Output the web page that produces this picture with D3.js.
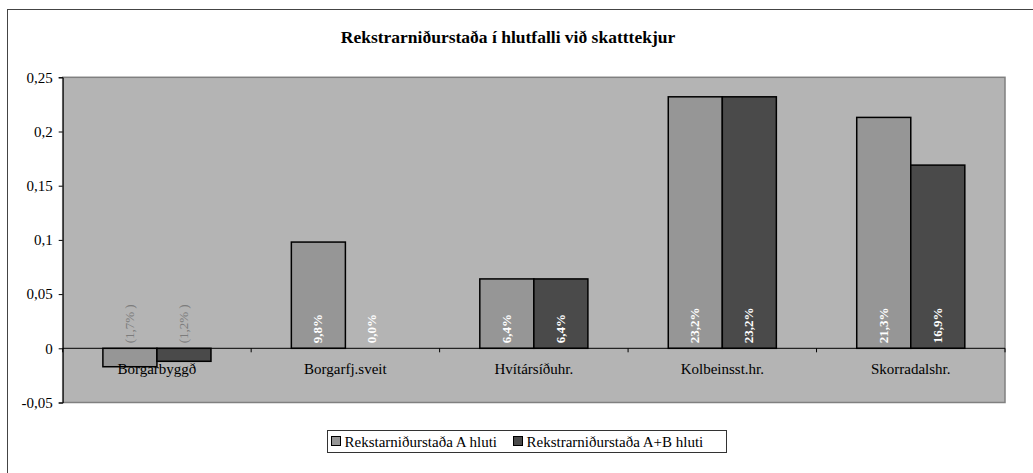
<!DOCTYPE html>
<html>
<head>
<meta charset="utf-8">
<script src="https://cdn.jsdelivr.net/npm/d3@7"></script>
<style>
  body { margin: 0; background: #fff; }
  svg text { font-family: "Liberation Serif", "DejaVu Serif", serif !important; }
</style>
</head>
<body>
<svg id="chart"></svg>
<script>
// data
const categories = ["Borgarbyggð", "Borgarfj.sveit", "Hvítársíðuhr.", "Kolbeinsst.hr.", "Skorradalshr."];
const seriesNames = ["Rekstarniðurstaða A hluti", "Rekstrarniðurstaða A+B hluti"];
const valuesA = [-0.017, 0.098, 0.064, 0.232, 0.213];
const valuesAB = [-0.012, 0.000, 0.064, 0.232, 0.169];
const yTicks = [-0.05, 0, 0.05, 0.1, 0.15, 0.2, 0.25];
const colors = ["#969696", "#4a4a4a"];

const W = 1033, H = 473;
const plot = { left: 62.7, right: 1005, top: 77.3, bottom: 402.5 };
const serif = "Liberation Serif";

const svg = d3.select("#chart").attr("width", W).attr("height", H)
  .attr("font-family", serif);

// chart border (runs off the right/bottom of the picture)
svg.append("rect")
  .attr("x", 7.5).attr("y", 9.5)
  .attr("width", W + 20).attr("height", H + 20)
  .attr("fill", "#fff").attr("stroke", "#444").attr("stroke-width", 1);

svg.append("text")
  .attr("x", 508).attr("y", 43)
  .attr("text-anchor", "middle")
  .attr("font-size", 17.5).attr("font-weight", "bold")
  .text("Rekstrarniðurstaða í hlutfalli við skatttekjur");

// scales
const x = d3.scaleBand().domain(categories).range([plot.left, plot.right])
  .paddingInner(0.4265).paddingOuter(0.21325);
const xs = d3.scaleBand().domain([0, 1]).range([0, x.bandwidth()]);
const y = d3.scaleLinear().domain([-0.05, 0.25]).range([plot.bottom, plot.top]);

// plot area
svg.append("rect")
  .attr("x", plot.left).attr("y", plot.top)
  .attr("width", plot.right - plot.left).attr("height", plot.bottom - plot.top)
  .attr("fill", "#b4b4b4").attr("stroke", "#808080").attr("stroke-width", 1.5);

// y axis
const fmt = v => String(+v.toFixed(2)).replace(".", ",");
const yAxis = d3.axisLeft(y).tickValues(yTicks).tickSize(4).tickPadding(6).tickFormat(fmt);
const gy = svg.append("g")
  .attr("transform", "translate(" + plot.left + ",0)")
  .call(yAxis)
  .attr("font-family", serif);
gy.select(".domain").attr("stroke", "#000");
gy.selectAll(".tick line").attr("stroke", "#000");
gy.selectAll(".tick text").attr("font-size", 15).attr("fill", "#000");

// bars
const rows = categories.map((c, i) => ({ cat: c, vals: [valuesA[i], valuesAB[i]] }));
const groups = svg.append("g").selectAll("g")
  .data(rows).enter().append("g")
  .attr("transform", d => "translate(" + x(d.cat) + ",0)");

groups.selectAll("rect")
  .data(d => d.vals.map((v, s) => ({ v, s })))
  .enter().append("rect")
  .filter(d => d.v !== 0)
  .attr("x", d => xs(d.s))
  .attr("width", xs.bandwidth())
  .attr("y", d => y(Math.max(0, d.v)))
  .attr("height", d => Math.abs(y(d.v) - y(0)))
  .attr("fill", d => colors[d.s])
  .attr("stroke", "#000").attr("stroke-width", 1.5);

// zero line with category ticks
svg.append("line")
  .attr("x1", plot.left).attr("x2", plot.right)
  .attr("y1", y(0)).attr("y2", y(0))
  .attr("stroke", "#000");
const bounds = categories.map(c => x(c) - x.step() * x.paddingInner() / 2).concat([plot.right]);
svg.append("g").selectAll("line")
  .data(bounds).enter().append("line")
  .attr("x1", d => d).attr("x2", d => d)
  .attr("y1", y(0)).attr("y2", y(0) + 4)
  .attr("stroke", "#000");

// category labels
svg.append("g").selectAll("text")
  .data(categories).enter().append("text")
  .attr("x", d => x(d) + x.bandwidth() / 2)
  .attr("y", y(0) + 26)
  .attr("text-anchor", "middle")
  .attr("font-size", 15)
  .text(d => d);

// value labels, rotated, starting just above the zero line
const pct = v => {
  const s = (Math.abs(v) * 100).toFixed(1).replace(".", ",") + "%";
  return v < 0 ? "(" + s + " )" : s;
};
groups.selectAll("text")
  .data(d => d.vals.map((v, s) => ({ v, s })))
  .enter().append("text")
  .attr("transform", d => "translate(" + (xs(d.s) + xs.bandwidth() / 2 + 4) + "," + (y(0) - 5) + ") rotate(-90)")
  .attr("font-size", 13)
  .attr("font-weight", d => d.v < 0 ? "normal" : "bold")
  .attr("fill", d => d.v < 0 ? "#7c7c7c" : "#fff")
  .text(d => pct(d.v));

// legend
const lg = svg.append("g").attr("transform", "translate(327.5,430.5)");
lg.append("rect").attr("width", 399).attr("height", 22)
  .attr("fill", "#fff").attr("stroke", "#333");
const items = lg.selectAll("g").data(seriesNames).enter().append("g")
  .attr("transform", (d, i) => "translate(" + (4 + i * 182) + ",0)");
items.append("rect")
  .attr("x", 0).attr("y", 6).attr("width", 9).attr("height", 9)
  .attr("fill", (d, i) => colors[i]).attr("stroke", "#000");
items.append("text")
  .attr("x", 13).attr("y", 16)
  .attr("font-size", 15)
  .text(d => d);
</script>
</body>
</html>
